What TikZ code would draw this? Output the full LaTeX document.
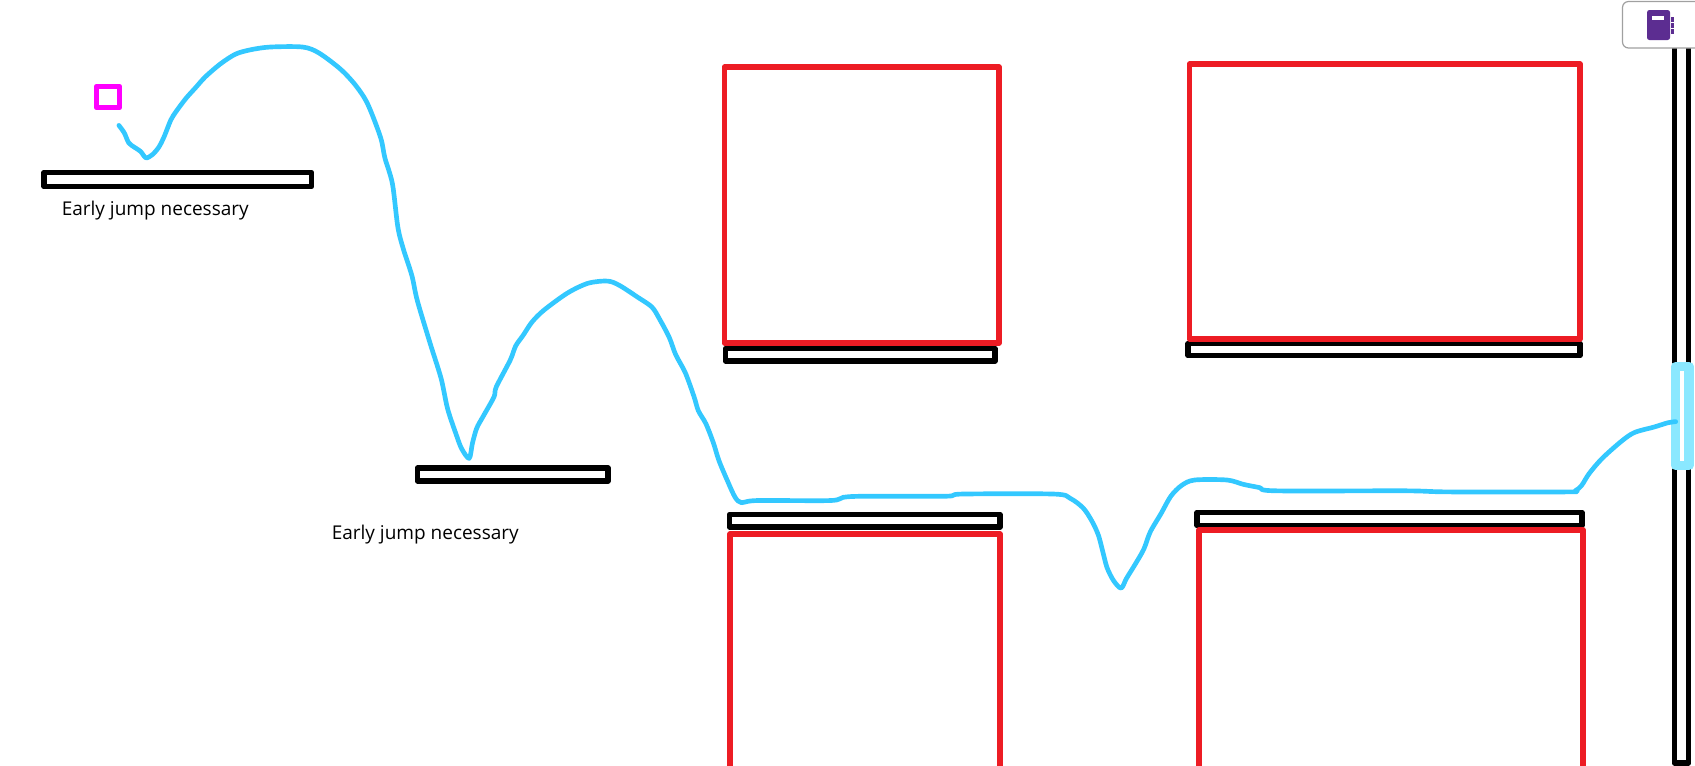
\documentclass[tikz,border=0pt]{standalone}
\usepackage{fontspec}
\setmainfont{Open Sans}
\definecolor{redbox}{HTML}{ED1C24}
\definecolor{jumpline}{HTML}{33C8FF}
\definecolor{goalfill}{HTML}{8AE8FF}
\definecolor{pinkbox}{HTML}{FF00FF}
\definecolor{bookpurple}{HTML}{5C2D91}
\definecolor{btnedge}{HTML}{A0A0A0}
\tikzset{
  x=0.75pt,y=-0.75pt,
  platform/.style={draw=black,line width=4.2pt,line join=round,fill=white},
  hazard/.style={draw=redbox,line width=4.2pt,line join=round},
  path line/.style={draw=jumpline,line width=3.5pt,line cap=round,line join=round},
  caption/.style={anchor=base west,inner sep=0pt,font=\fontsize{14.25pt}{16pt}\selectfont,text=black},
}
\begin{document}
\begin{tikzpicture}
\useasboundingbox (0,0) rectangle (1695,765);
\clip (0,0) rectangle (1695,765);
\fill[white] (0,0) rectangle (1695,765);
% player
\draw[draw=pinkbox,line width=4.2pt,line join=round] (96.5,86.5) rectangle (119.5,107.5);
% platforms
\draw[platform] (44,172.5) rectangle (311.5,186.5);
\draw[platform] (417.5,468) rectangle (608,481);
\draw[platform] (725.5,348.5) rectangle (995,361);
\draw[platform] (1188,343.5) rectangle (1580,355.5);
\draw[platform] (729.5,514.5) rectangle (1000,527);
\draw[platform] (1197,512.5) rectangle (1582,525.5);
% hazards
\draw[hazard] (724.5,67) rectangle (999,343);
\draw[hazard] (1189.5,64) rectangle (1580,339);
\draw[hazard] (730,775) -- (730,534) -- (1000,534) -- (1000,775);
\draw[hazard] (1199,775) -- (1199,530) -- (1583,530) -- (1583,775);
% labels
\node[caption] (lbl1) at (61.5,215) {Early jump necessary};
\node[caption] (lbl2) at (331.5,539) {Early jump necessary};
% wall with goal
\draw[platform] (1674.5,30) rectangle (1688.5,763);
\draw[draw=goalfill,line width=6.9pt,line join=round,fill=white] (1675.5,366.5) rectangle (1689,465.5);
% jump trajectory
\draw[path line,x=0.8108pt,y=-0.8108pt] plot[smooth,tension=0.5] coordinates {
(110,116)(115,123)(119,132)(124,136)(130,140)(135,146)(141,143)(147,136)(152,126)(158,111)(163,103)(172,91)(181,81)(190,71)(204,59)(218,50)(232,46)(250,43.5)(280,43.5)(295,49)(315,64)(329,79)(340,96)(352,127)(356,146)(363,170)(368,210)(373,230)(381,255)(386,278)(398,318)(408,350)(414,378)(422,402)(427,415)(434,424)(437,410)(441,396)(447,385)(457,367)(459,358)(472,333)(477,320)(484,310)(492,298)(503,287)(525,271)(544,262)(562,260)(573,264)(590,275)(603,284)(610,295)(619,312)(625,328)(634,345)(642,367)(646,380)(653,392)(660,410)(665,426)(673,445)(680,460)(686,465)(700,463)(768,463)(780,460)(800,459)(875,459)(890,457)(975,457)(990,461)(1002,470)(1010,482)(1016,495)(1020,510)(1024,525)(1030,537)(1037,544)(1042,535)(1050,522)(1058,508)(1064,492)(1074,475)(1083,459)(1093,449)(1105,444)(1135,444)(1150,448)(1165,451)(1180,454)(1300,454)(1340,455)(1450,455)(1457,454)(1463,449)(1470,438)(1482,424)(1500,408)(1512,400)(1530,395)(1543,391)(1550,390)};
% notebook button
\draw[draw=btnedge,line width=0.9pt,fill=white,rounded corners=4.5pt] (1622.5,1.5) rectangle (1720,48);
\fill[bookpurple,rounded corners=1.8pt] (1647,10) rectangle (1670,40);
\fill[white] (1652,16) rectangle (1664,19.5);
\fill[bookpurple] (1671,17) rectangle (1674,22);
\fill[bookpurple] (1671,23) rectangle (1674,28);
\fill[bookpurple] (1671,29) rectangle (1674,34);
\end{tikzpicture}
\end{document}
